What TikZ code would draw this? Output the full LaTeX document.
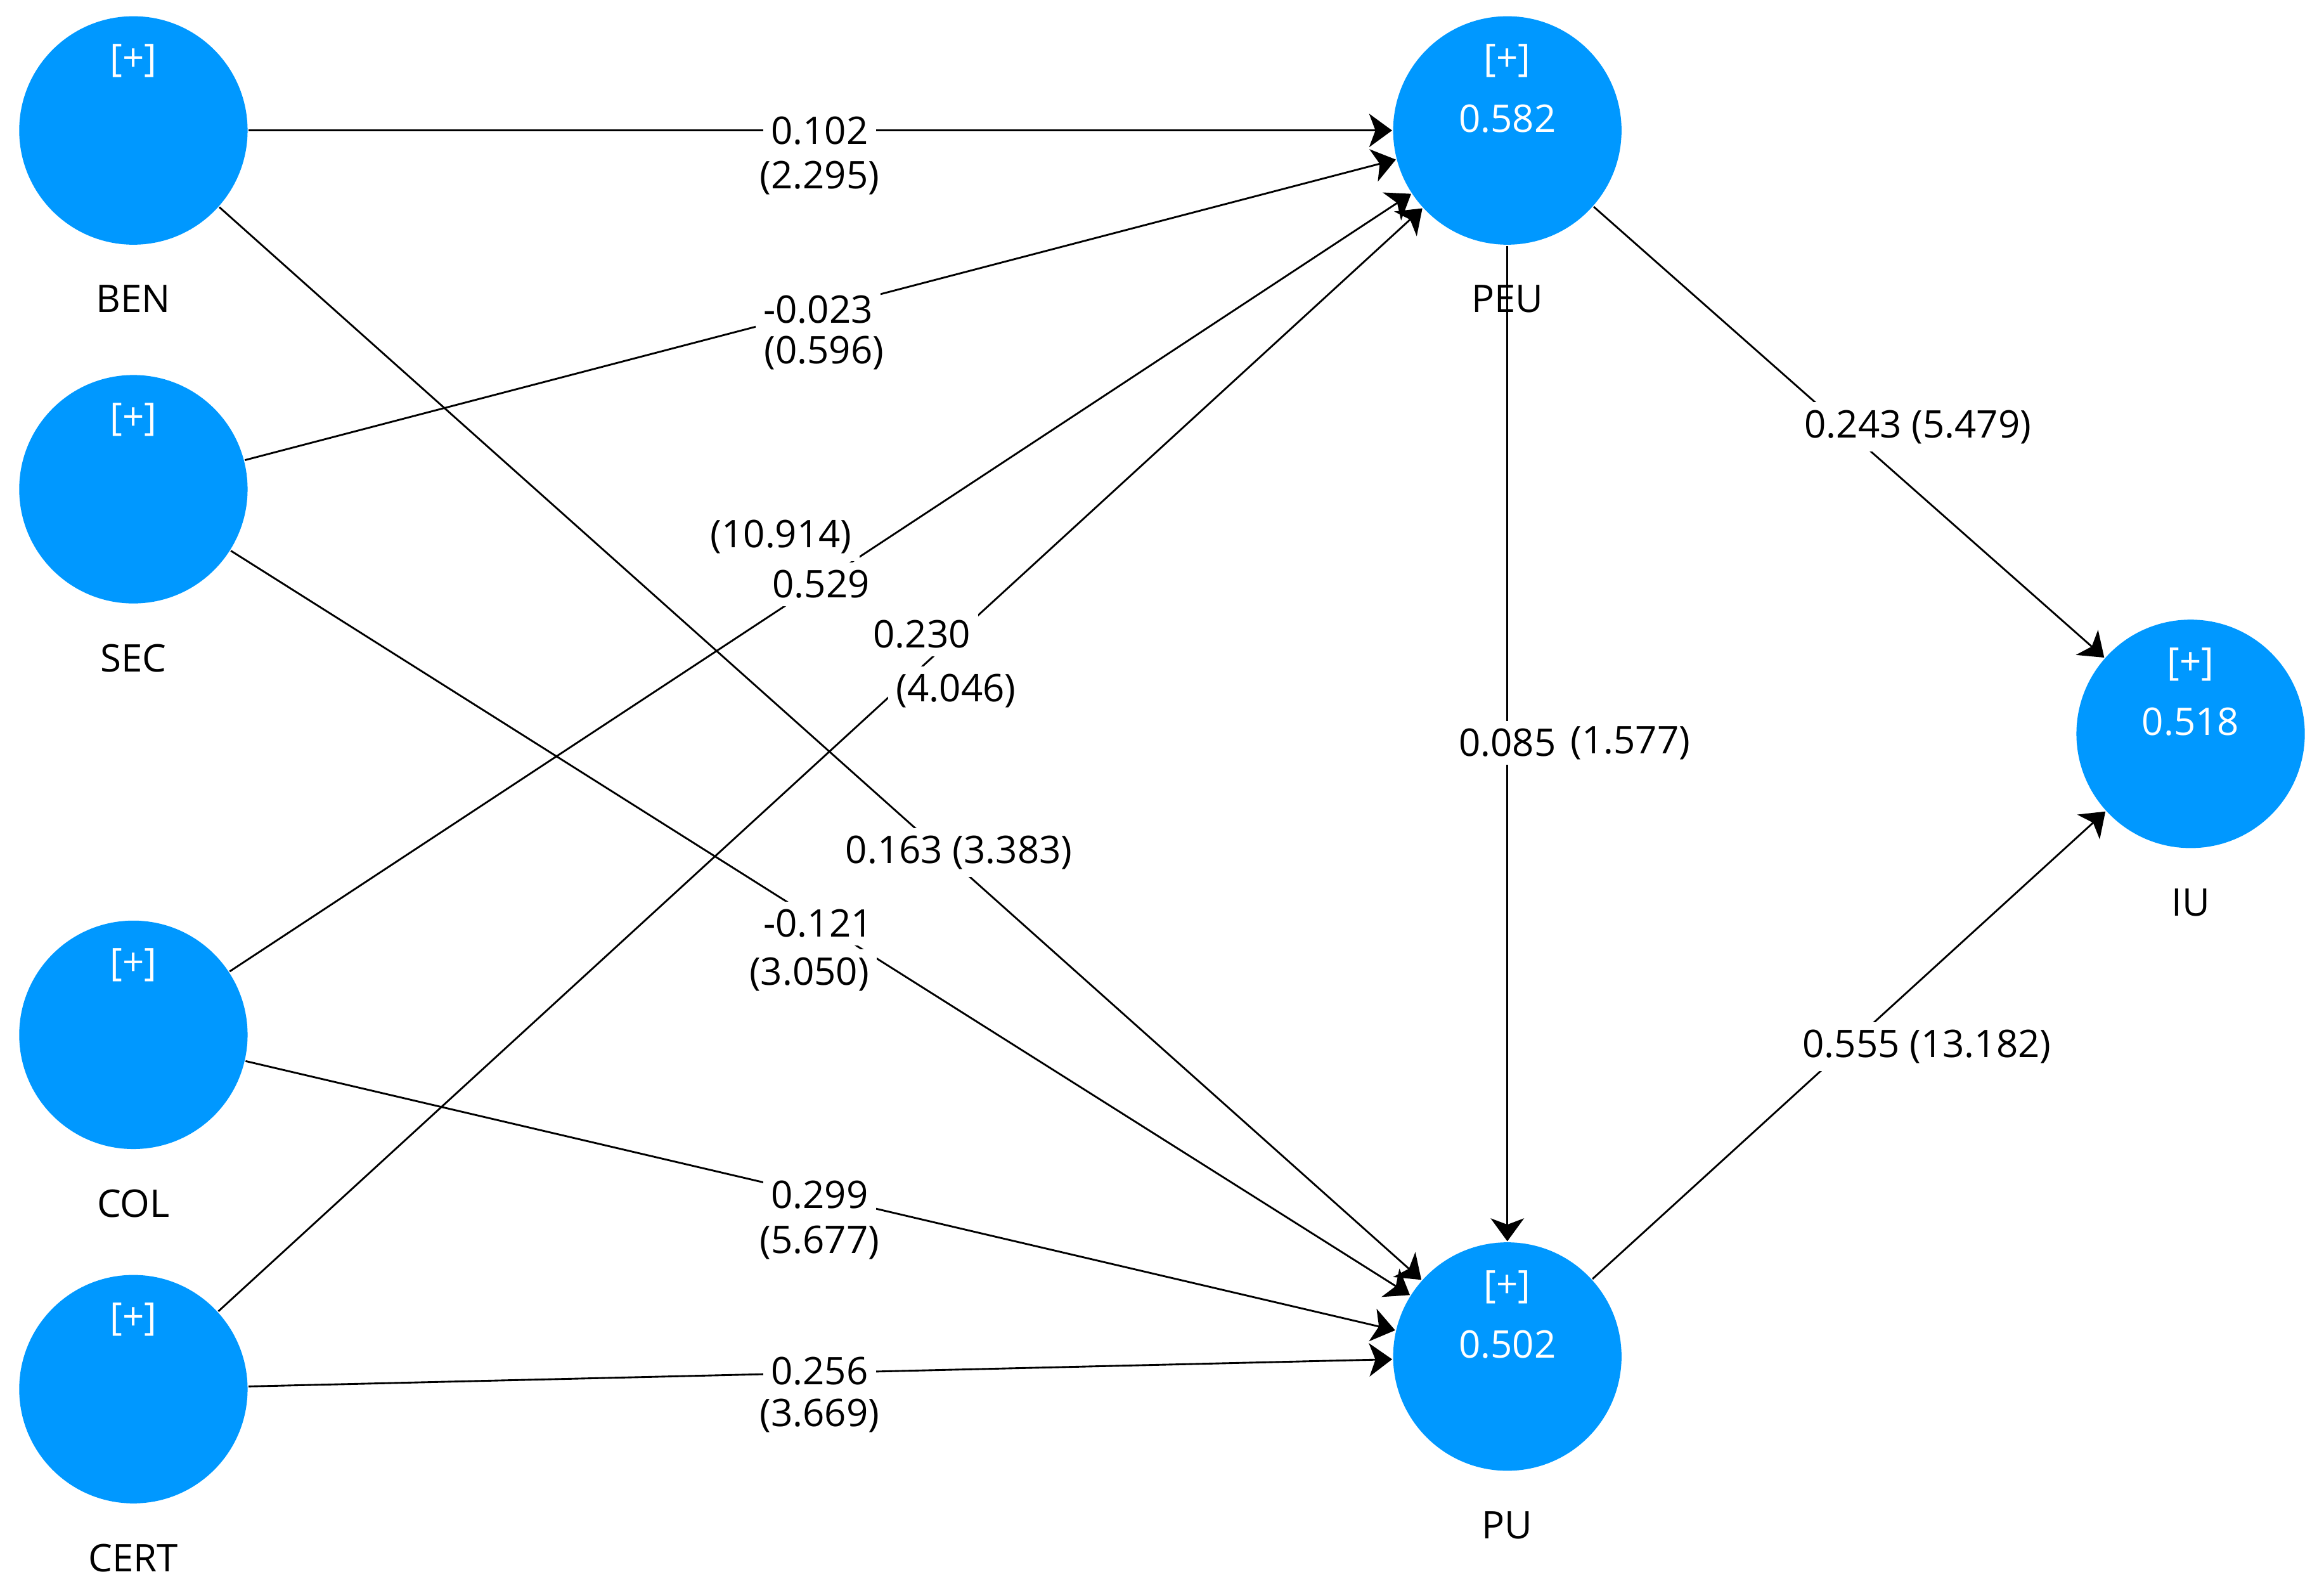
\documentclass[tikz,border=0pt]{standalone}
\usepackage{fontspec}
\setmainfont{Open Sans}
\usetikzlibrary{arrows.meta,positioning}
\definecolor{plsblue}{RGB}{0,152,255}
\begin{document}
\begin{tikzpicture}[x=0.01cm, y=-0.01cm,
  font=\fontsize{7.3}{9}\selectfont,
  lv/.style={circle, fill=plsblue, inner sep=0pt, minimum size=1.54cm},
  lvtext/.style={text=white, inner sep=0pt},
  lvname/.style={inner sep=0pt},
  path/.style={draw=black, line width=0.35pt, -{Stealth[length=4.4pt,width=6.4pt,inset=1.2pt]}},
  coef/.style={fill=white, inner sep=1.5pt}]

\newcommand\TOP{0.47cm}
\newcommand\MID{0.08cm}
\newcommand\GAP{0.26cm}

\useasboundingbox (0,0) rectangle (1568,1073);

%% constructs
\node[lv] (BEN)  at (90,88)    {};
\node[lv] (SEC)  at (90,330)   {};
\node[lv] (COL)  at (90,698)   {};
\node[lv] (CERT) at (90,937)   {};
\node[lv] (PEU)  at (1017,88)  {};
\node[lv] (PU)   at (1017,915) {};
\node[lv] (IU)   at (1478,495) {};

\node[lvtext] (BENp)  at ([yshift=\TOP]BEN.center)  {[+]};
\node[lvtext] (SECp)  at ([yshift=\TOP]SEC.center)  {[+]};
\node[lvtext] (COLp)  at ([yshift=\TOP]COL.center)  {[+]};
\node[lvtext] (CERTp) at ([yshift=\TOP]CERT.center) {[+]};
\node[lvtext] (PEUp)  at ([yshift=\TOP]PEU.center)  {[+]};
\node[lvtext] (PUp)   at ([yshift=\TOP]PU.center)   {[+]};
\node[lvtext] (IUp)   at ([yshift=\TOP]IU.center)   {[+]};

\node[lvtext] (PEUr) at ([yshift=\MID]PEU.center) {0.582};
\node[lvtext] (PUr)  at ([yshift=\MID]PU.center)  {0.502};
\node[lvtext] (IUr)  at ([yshift=\MID]IU.center)  {0.518};

\node[lvname, below=\GAP of BEN]  (BENn)  {BEN};
\node[lvname, below=\GAP of SEC]  (SECn)  {SEC};
\node[lvname, below=\GAP of COL]  (COLn)  {COL};
\node[lvname, below=\GAP of CERT] (CERTn) {CERT};
\node[lvname, below=\GAP of PEU]  (PEUn)  {PEU};
\node[lvname, below=\GAP of PU]   (PUn)   {PU};
\node[lvname, below=\GAP of IU]   (IUn)   {IU};
%%

\draw[path] (BEN)  -- (PEU);
\draw[path] (SEC)  -- (PEU);
\draw[path] (COL)  -- (PEU);
\draw[path] (CERT) -- (PEU);
\draw[path] (BEN)  -- (PU);
\draw[path] (SEC)  -- (PU);
\draw[path] (COL)  -- (PU);
\draw[path] (CERT) -- (PU);
\draw[path] (PEU)  -- (PU);
\draw[path] (PEU)  -- (IU);
\draw[path] (PU)   -- (IU);
%%

\node[coef] (c1)  at (553,88)   {0.102};
\node[coef] (t1)  at (553,120)  {(2.295)};
\node[coef] (c2)  at (552,209)  {-0.023};
\node[coef] (t2)  at (556,238)  {(0.596)};
\node[coef] (t3)  at (527,362)  {(10.914)};
\node[coef] (c3)  at (554,394)  {0.529};
\node[coef] (c4)  at (622,428)  {0.230};
\node[coef] (t4)  at (645,466)  {(4.046)};
\node[coef] (c5)  at (647,575)  {0.163 (3.383)};
\node[coef] (c6)  at (552,623)  {-0.121};
\node[coef] (t6)  at (546,657)  {(3.050)};
\node[coef] (c7)  at (553,806)  {0.299};
\node[coef] (t7)  at (553,838)  {(5.677)};
\node[coef] (c8)  at (553,925)  {0.256};
\node[coef] (t8)  at (553,955)  {(3.669)};
\node[coef] (c9)  at (1017,501) {0.085};
\node[coef] (t9)  at (1100,501) {(1.577)};
\node[coef] (c10) at (1294,288) {0.243 (5.479)};
\node[coef] (c11) at (1300,706) {0.555 (13.182)};

\end{tikzpicture}
\end{document}
